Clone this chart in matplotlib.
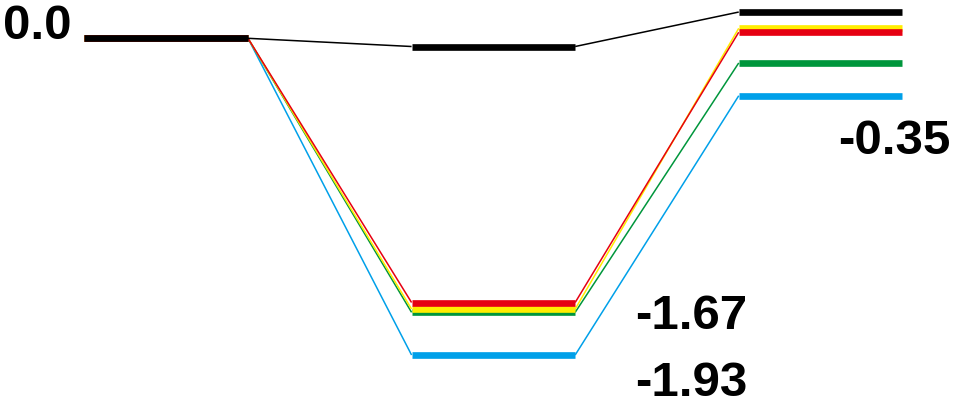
import matplotlib.pyplot as plt

# energy levels (eV) at the three stages
stages = [0, 1, 2]
black = [0.0, -0.05, 0.16]
red = [0.0, -1.61, 0.037]
yellow = [0.0, -1.65, 0.061]
green = [0.0, -1.67, -0.15]
blue = [0.0, -1.93, -0.35]

series = [
    (blue, '#00a0e9'),
    (green, '#00963c'),
    (yellow, '#ffed00'),
    (red, '#e60012'),
    (black, '#000000'),
]

labels = ['0.0', '-1.67', '-1.93', '-0.35']
label_pos = [(-0.29, 0.0, 'right'), (1.433, -1.765, 'left'),
             (1.433, -2.175, 'left'), (2.054, -0.699, 'left')]

half = 0.25

fig = plt.figure(figsize=(9.55, 4.06), dpi=100)
ax = fig.add_axes([0, 0, 1, 1])

for vals, col in series:
    # thin connectors between levels
    for i in range(len(stages) - 1):
        ax.plot([stages[i] + half, stages[i + 1] - half], [vals[i], vals[i + 1]],
                color=col, lw=1.1, solid_capstyle='butt')
    # thick level bars
    for s, v in zip(stages, vals):
        ax.plot([s - half, s + half], [v, v], color=col, lw=4.8,
                solid_capstyle='butt')

for txt, (x, y, ha) in zip(labels, label_pos):
    ax.text(x, y, txt, ha=ha, va='baseline', fontsize=35.5,
            fontweight='bold', family=['Liberation Sans', 'DejaVu Sans'])

ax.set_xlim(-0.508, 2.411)
ax.set_ylim(-2.2346, 0.2395)
ax.axis('off')

fig.savefig('out.png', dpi=100)
